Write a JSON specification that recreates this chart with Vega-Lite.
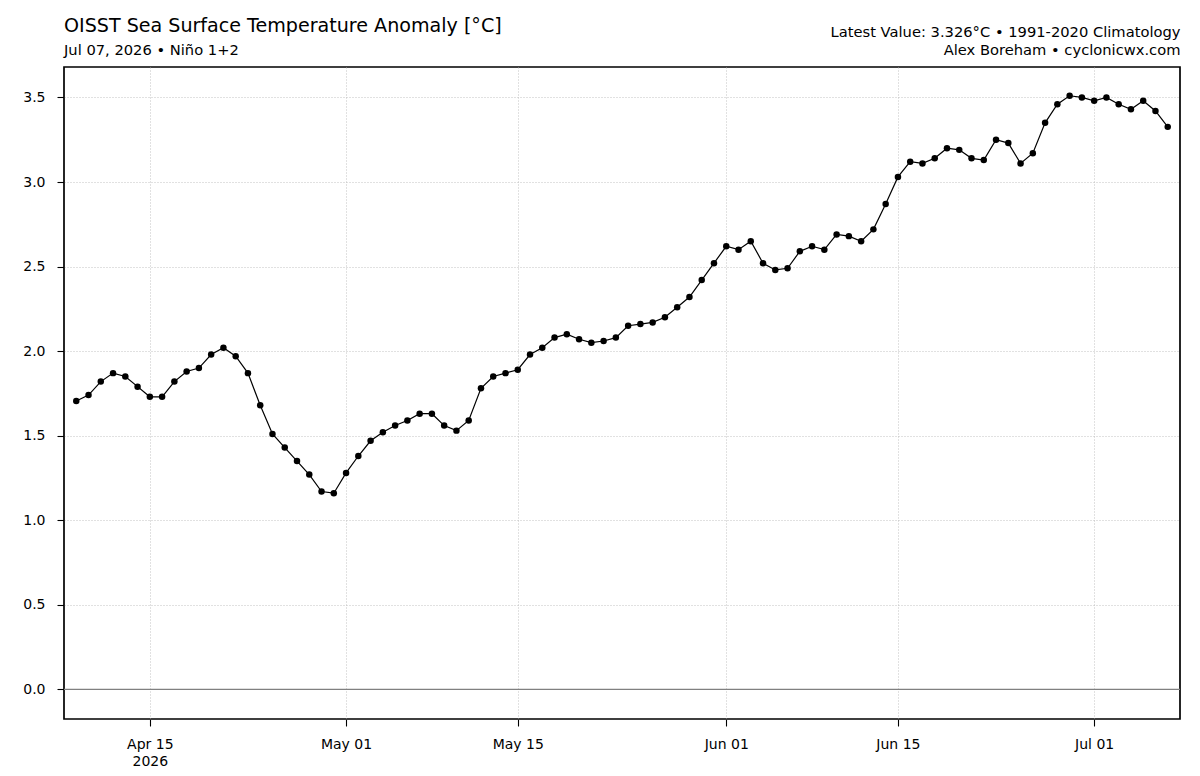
{
  "$schema": "https://vega.github.io/schema/vega-lite/v6.json",
  "width": 1116,
  "height": 652,
  "autosize": {"type": "none"},
  "padding": {"left": 64, "top": 67, "right": 20, "bottom": 57},
  "background": "white",
  "config": {
    "font": "DejaVu Sans",
    "view": {"stroke": "black", "strokeWidth": 1.7},
    "axis": {
      "labelFont": "DejaVu Sans",
      "labelFontSize": 14,
      "labelColor": "black",
      "tickColor": "black",
      "tickSize": 7,
      "tickWidth": 1.1,
      "domain": false,
      "gridColor": "#b4b4b4",
      "gridDash": [1, 2],
      "gridWidth": 0.8
    }
  },
  "title": {
    "text": "OISST Sea Surface Temperature Anomaly [°C]",
    "subtitle": "Jul 07, 2026 • Niño 1+2",
    "anchor": "start",
    "frame": "group",
    "font": "DejaVu Sans",
    "fontSize": 19.1,
    "fontWeight": "normal",
    "color": "black",
    "subtitleFont": "DejaVu Sans",
    "subtitleFontSize": 14.7,
    "subtitleColor": "black",
    "subtitlePadding": 7,
    "offset": -34
  },
  "datasets": {
    "sst": [
      {"date": "2026-04-09", "anomaly": 1.705},
      {"date": "2026-04-10", "anomaly": 1.74},
      {"date": "2026-04-11", "anomaly": 1.82},
      {"date": "2026-04-12", "anomaly": 1.87},
      {"date": "2026-04-13", "anomaly": 1.85},
      {"date": "2026-04-14", "anomaly": 1.79},
      {"date": "2026-04-15", "anomaly": 1.73},
      {"date": "2026-04-16", "anomaly": 1.73},
      {"date": "2026-04-17", "anomaly": 1.82},
      {"date": "2026-04-18", "anomaly": 1.88},
      {"date": "2026-04-19", "anomaly": 1.9},
      {"date": "2026-04-20", "anomaly": 1.98},
      {"date": "2026-04-21", "anomaly": 2.02},
      {"date": "2026-04-22", "anomaly": 1.97},
      {"date": "2026-04-23", "anomaly": 1.87},
      {"date": "2026-04-24", "anomaly": 1.68},
      {"date": "2026-04-25", "anomaly": 1.51},
      {"date": "2026-04-26", "anomaly": 1.43},
      {"date": "2026-04-27", "anomaly": 1.35},
      {"date": "2026-04-28", "anomaly": 1.27},
      {"date": "2026-04-29", "anomaly": 1.17},
      {"date": "2026-04-30", "anomaly": 1.16},
      {"date": "2026-05-01", "anomaly": 1.28},
      {"date": "2026-05-02", "anomaly": 1.38},
      {"date": "2026-05-03", "anomaly": 1.47},
      {"date": "2026-05-04", "anomaly": 1.52},
      {"date": "2026-05-05", "anomaly": 1.56},
      {"date": "2026-05-06", "anomaly": 1.59},
      {"date": "2026-05-07", "anomaly": 1.63},
      {"date": "2026-05-08", "anomaly": 1.63},
      {"date": "2026-05-09", "anomaly": 1.56},
      {"date": "2026-05-10", "anomaly": 1.53},
      {"date": "2026-05-11", "anomaly": 1.59},
      {"date": "2026-05-12", "anomaly": 1.78},
      {"date": "2026-05-13", "anomaly": 1.85},
      {"date": "2026-05-14", "anomaly": 1.87},
      {"date": "2026-05-15", "anomaly": 1.89},
      {"date": "2026-05-16", "anomaly": 1.98},
      {"date": "2026-05-17", "anomaly": 2.02},
      {"date": "2026-05-18", "anomaly": 2.08},
      {"date": "2026-05-19", "anomaly": 2.1},
      {"date": "2026-05-20", "anomaly": 2.07},
      {"date": "2026-05-21", "anomaly": 2.05},
      {"date": "2026-05-22", "anomaly": 2.06},
      {"date": "2026-05-23", "anomaly": 2.08},
      {"date": "2026-05-24", "anomaly": 2.15},
      {"date": "2026-05-25", "anomaly": 2.16},
      {"date": "2026-05-26", "anomaly": 2.17},
      {"date": "2026-05-27", "anomaly": 2.2},
      {"date": "2026-05-28", "anomaly": 2.26},
      {"date": "2026-05-29", "anomaly": 2.32},
      {"date": "2026-05-30", "anomaly": 2.42},
      {"date": "2026-05-31", "anomaly": 2.52},
      {"date": "2026-06-01", "anomaly": 2.62},
      {"date": "2026-06-02", "anomaly": 2.6},
      {"date": "2026-06-03", "anomaly": 2.65},
      {"date": "2026-06-04", "anomaly": 2.52},
      {"date": "2026-06-05", "anomaly": 2.48},
      {"date": "2026-06-06", "anomaly": 2.49},
      {"date": "2026-06-07", "anomaly": 2.59},
      {"date": "2026-06-08", "anomaly": 2.62},
      {"date": "2026-06-09", "anomaly": 2.6},
      {"date": "2026-06-10", "anomaly": 2.69},
      {"date": "2026-06-11", "anomaly": 2.68},
      {"date": "2026-06-12", "anomaly": 2.65},
      {"date": "2026-06-13", "anomaly": 2.72},
      {"date": "2026-06-14", "anomaly": 2.87},
      {"date": "2026-06-15", "anomaly": 3.03},
      {"date": "2026-06-16", "anomaly": 3.12},
      {"date": "2026-06-17", "anomaly": 3.11},
      {"date": "2026-06-18", "anomaly": 3.14},
      {"date": "2026-06-19", "anomaly": 3.2},
      {"date": "2026-06-20", "anomaly": 3.19},
      {"date": "2026-06-21", "anomaly": 3.14},
      {"date": "2026-06-22", "anomaly": 3.13},
      {"date": "2026-06-23", "anomaly": 3.25},
      {"date": "2026-06-24", "anomaly": 3.23},
      {"date": "2026-06-25", "anomaly": 3.11},
      {"date": "2026-06-26", "anomaly": 3.17},
      {"date": "2026-06-27", "anomaly": 3.35},
      {"date": "2026-06-28", "anomaly": 3.46},
      {"date": "2026-06-29", "anomaly": 3.51},
      {"date": "2026-06-30", "anomaly": 3.5},
      {"date": "2026-07-01", "anomaly": 3.48},
      {"date": "2026-07-02", "anomaly": 3.5},
      {"date": "2026-07-03", "anomaly": 3.46},
      {"date": "2026-07-04", "anomaly": 3.43},
      {"date": "2026-07-05", "anomaly": 3.48},
      {"date": "2026-07-06", "anomaly": 3.42},
      {"date": "2026-07-07", "anomaly": 3.326}
    ]
  },
  "data": {"name": "sst"},
  "resolve": {"axis": {"x": "independent"}},
  "layer": [
    {
      "mark": {"type": "line", "color": "black", "strokeWidth": 1.2},
      "encoding": {
        "x": {
          "field": "date",
          "type": "temporal",
          "scale": {
            "type": "utc",
            "domain": [
              {"year": 2026, "month": 4, "date": 8, "utc": true},
              {"year": 2026, "month": 7, "date": 8, "utc": true}
            ]
          },
          "axis": {
            "title": null,
            "orient": "bottom",
            "grid": true,
            "values": [
              {"year": 2026, "month": 4, "date": 15, "utc": true},
              {"year": 2026, "month": 5, "date": 1, "utc": true},
              {"year": 2026, "month": 5, "date": 15, "utc": true},
              {"year": 2026, "month": 6, "date": 1, "utc": true},
              {"year": 2026, "month": 6, "date": 15, "utc": true},
              {"year": 2026, "month": 7, "date": 1, "utc": true}
            ],
            "format": "%b %d",
            "labelExpr": "utcmonth(datum.value) == 3 && utcdate(datum.value) == 15 ? [datum.label, '2026'] : datum.label",
            "labelPadding": 11.5,
            "labelLineHeight": 17
          }
        },
        "y": {
          "field": "anomaly",
          "type": "quantitative",
          "scale": {"domain": [-0.175, 3.68], "nice": false, "zero": false},
          "axis": {
            "title": null,
            "grid": true,
            "values": [0, 0.5, 1, 1.5, 2, 2.5, 3, 3.5],
            "format": ".1f",
            "labelPadding": 12
          }
        }
      }
    },
    {
      "data": {"values": [{}]},
      "mark": {"type": "rule", "color": "#808080", "strokeWidth": 1.2},
      "encoding": {
        "y": {
          "datum": 0,
          "type": "quantitative",
          "axis": {
            "title": null,
            "grid": true,
            "values": [0, 0.5, 1, 1.5, 2, 2.5, 3, 3.5],
            "format": ".1f",
            "labelPadding": 12
          }
        }
      }
    },
    {
      "mark": {"type": "circle", "color": "black", "opacity": 1, "size": 42},
      "encoding": {
        "x": {
          "field": "date",
          "type": "temporal",
          "axis": {
            "orient": "top",
            "labels": false,
            "ticks": false,
            "grid": false,
            "domain": false,
            "title": ["Latest Value: 3.326°C • 1991-2020 Climatology", "Alex Boreham • cyclonicwx.com"],
            "titleAnchor": "end",
            "titleAlign": "right",
            "titleFont": "DejaVu Sans",
            "titleFontSize": 14.7,
            "titleFontWeight": "normal",
            "titleColor": "black",
            "titleLineHeight": 18,
            "titlePadding": 10
          }
        },
        "y": {
          "field": "anomaly",
          "type": "quantitative",
          "axis": {
            "title": null,
            "grid": true,
            "values": [0, 0.5, 1, 1.5, 2, 2.5, 3, 3.5],
            "format": ".1f",
            "labelPadding": 12
          }
        }
      }
    }
  ]
}
